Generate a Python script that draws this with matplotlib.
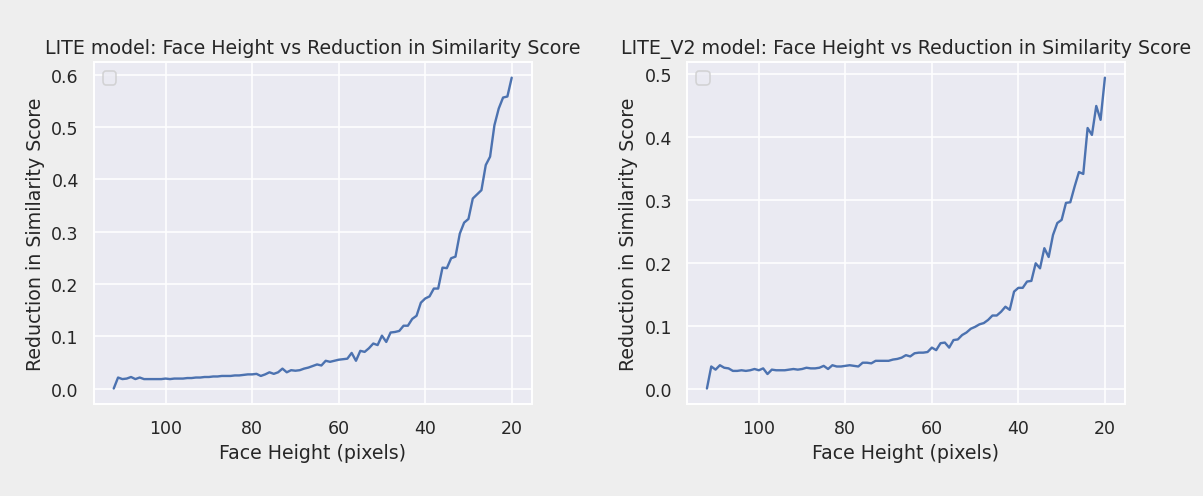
import matplotlib
matplotlib.use("Agg")
import matplotlib.pyplot as plt
import seaborn as sns

face_height = [112, 111, 110, 109, 108, 107, 106, 105, 104, 103, 102, 101, 100,
               99, 98, 97, 96, 95, 94, 93, 92, 91, 90, 89, 88, 87, 86, 85, 84,
               83, 82, 81, 80, 79, 78, 77, 76, 75, 74, 73, 72, 71, 70, 69, 68,
               67, 66, 65, 64, 63, 62, 61, 60, 59, 58, 57, 56, 55, 54, 53, 52,
               51, 50, 49, 48, 47, 46, 45, 44, 43, 42, 41, 40, 39, 38, 37, 36,
               35, 34, 33, 32, 31, 30, 29, 28, 27, 26, 25, 24, 23, 22, 21, 20]

lite_reduction = [0.000, 0.021, 0.018, 0.019, 0.022, 0.018, 0.021, 0.018, 0.018,
                  0.018, 0.018, 0.018, 0.019, 0.018, 0.019, 0.019, 0.019, 0.020,
                  0.020, 0.021, 0.021, 0.022, 0.022, 0.023, 0.023, 0.024, 0.024,
                  0.024, 0.025, 0.025, 0.026, 0.027, 0.027, 0.028, 0.024, 0.027,
                  0.031, 0.028, 0.031, 0.038, 0.031, 0.035, 0.034, 0.035, 0.038,
                  0.040, 0.043, 0.046, 0.044, 0.053, 0.051, 0.053, 0.055, 0.056,
                  0.057, 0.068, 0.053, 0.072, 0.070, 0.077, 0.086, 0.083, 0.101,
                  0.089, 0.107, 0.108, 0.110, 0.120, 0.120, 0.133, 0.139, 0.164,
                  0.172, 0.176, 0.191, 0.191, 0.231, 0.230, 0.249, 0.252, 0.296,
                  0.317, 0.324, 0.363, 0.371, 0.379, 0.427, 0.443, 0.503, 0.535,
                  0.556, 0.558, 0.594]

lite_v2_reduction = [0.000, 0.035, 0.030, 0.037, 0.033, 0.032, 0.028, 0.028, 0.029,
                     0.028, 0.029, 0.031, 0.029, 0.032, 0.023, 0.030, 0.029, 0.029,
                     0.029, 0.030, 0.031, 0.030, 0.031, 0.033, 0.032, 0.032, 0.033,
                     0.036, 0.031, 0.037, 0.035, 0.035, 0.036, 0.037, 0.036, 0.035,
                     0.041, 0.041, 0.040, 0.044, 0.044, 0.044, 0.044, 0.046, 0.047,
                     0.049, 0.053, 0.051, 0.056, 0.057, 0.057, 0.058, 0.065, 0.061,
                     0.072, 0.073, 0.065, 0.077, 0.078, 0.085, 0.089, 0.095, 0.098,
                     0.102, 0.104, 0.109, 0.116, 0.116, 0.122, 0.130, 0.125, 0.154,
                     0.160, 0.160, 0.170, 0.171, 0.199, 0.191, 0.223, 0.209, 0.244,
                     0.263, 0.268, 0.295, 0.296, 0.321, 0.344, 0.341, 0.414, 0.403,
                     0.449, 0.427, 0.494]

models = ["LITE", "LITE_V2"]

sns.set_theme(style="darkgrid")

# drawn at a slightly higher dpi so text and lines come out a bit heavier
fig, axes = plt.subplots(1, 2, figsize=(1203 / 114, 497 / 114), dpi=114)
fig.patch.set_facecolor("#eeeeee")
fig.subplots_adjust(left=0.078, right=0.935, bottom=0.185, top=0.873, wspace=0.355)

for ax, name, values in zip(axes, models, [lite_reduction, lite_v2_reduction]):
    ax.plot(face_height, values)
    ax.invert_xaxis()
    ax.set_title(f"{name} model: Face Height vs Reduction in Similarity Score")
    ax.set_xlabel("Face Height (pixels)")
    ax.set_ylabel("Reduction in Similarity Score")
    ax.legend(handles=[], loc="upper left")

plt.savefig("out.png", dpi=114, facecolor=fig.get_facecolor())
